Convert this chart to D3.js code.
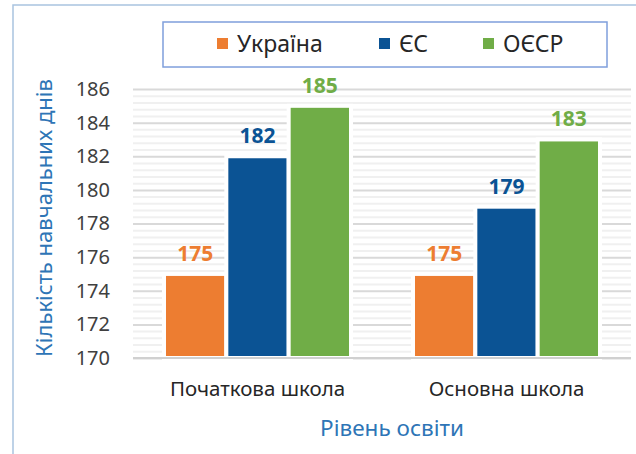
<!DOCTYPE html>
<html lang="uk">
<head>
    <meta charset="UTF-8">
    <title>Кількість навчальних днів</title>
    <style>
        body { margin: 0; background: #fff; }
        text { font-family: "Noto Sans", sans-serif; }
    </style>
</head>
<body>
    <div class="container"></div>
    <script src="https://cdn.jsdelivr.net/npm/d3@7/dist/d3.min.js"></script>
    <script>
        // data
        const categories = ["Початкова школа", "Основна школа"]
        const series = ["Україна", "ЄС", "ОЄСР"]
        const ukraine = [175, 175]
        const eu = [182, 179]
        const oecd = [185, 183]
        const yTicks = [170, 172, 174, 176, 178, 180, 182, 184, 186]

        const colors = ["#ED7D31", "#0B5394", "#70AD47"]
        const values = [ukraine, eu, oecd]

        const width = 636
        const height = 454
        const plot = { left: 133, right: 631, top: 89, bottom: 358 }

        const svg = d3.select('.container').append("svg")
            .attr("width", width)
            .attr("height", height)

        // outer frame (cut off at right/bottom)
        svg.append("rect")
            .attr("x", 13).attr("y", 5)
            .attr("width", 640).attr("height", 470)
            .attr("fill", "none")
            .attr("stroke", "#A9C4E0")
            .attr("stroke-width", 1.5)

        const x0 = d3.scaleBand()
            .domain(categories)
            .range([plot.left, plot.right])
            .paddingInner(0.265)
            .paddingOuter(0.1325)

        const x1 = d3.scaleBand()
            .domain(series)
            .range([-2, x0.bandwidth() + 2])

        const y = d3.scaleLinear()
            .domain([170, 186])
            .range([plot.bottom, plot.top])

        // minor grid
        const minor = d3.range(170, 186, 0.4).filter(v => Math.abs((v - 170) / 2 - Math.round((v - 170) / 2)) > 0.01)
        svg.append("g")
            .attr("class", "minor-grid")
            .attr("transform", `translate(${plot.left},0)`)
            .call(d3.axisLeft(y).tickValues(minor).tickSize(-(plot.right - plot.left)).tickFormat(""))
            .call(g => g.select(".domain").remove())
            .call(g => g.selectAll("line").attr("stroke", "#F0F0F0").attr("stroke-width", 2))

        // major grid
        svg.append("g")
            .attr("class", "major-grid")
            .attr("transform", `translate(${plot.left},0)`)
            .call(d3.axisLeft(y).tickValues(yTicks).tickSize(-(plot.right - plot.left)).tickFormat(""))
            .call(g => g.select(".domain").remove())
            .call(g => g.selectAll("line").attr("stroke", "#D9D9D9").attr("stroke-width", 2))

        // y tick labels
        svg.append("g")
            .attr("class", "left-axis")
            .attr("transform", `translate(${plot.left},0)`)
            .call(d3.axisLeft(y).tickValues(yTicks).tickSize(0).tickPadding(23).tickFormat(d3.format("d")))
            .call(g => g.select(".domain").remove())
            .call(g => g.selectAll("text")
                .attr("fill", "#404040")
                .style("font-size", "20px")
                .style("font-family", "Noto Sans"))

        // bars
        const groups = svg.append("g").attr("class", "bars")
            .selectAll("g")
            .data(series)
            .join("g")

        groups.selectAll("rect")
            .data((s, i) => categories.map((c, j) => ({ s, c, v: values[i][j], color: colors[i] })))
            .join("rect")
            .attr("x", d => x0(d.c) + x1(d.s))
            .attr("y", d => y(d.v))
            .attr("width", x1.bandwidth())
            .attr("height", d => y(170) - y(d.v))
            .attr("fill", d => d.color)
            .attr("stroke", "#fff")
            .attr("stroke-width", 4)

        groups.selectAll("text")
            .data((s, i) => categories.map((c, j) => ({ s, c, v: values[i][j], color: colors[i] })))
            .join("text")
            .attr("x", d => x0(d.c) + x1(d.s) + x1.bandwidth() / 2)
            .attr("y", d => y(d.v) - 13)
            .attr("text-anchor", "middle")
            .attr("fill", d => d.color)
            .style("font-size", "21px")
            .style("font-weight", "bold")
            .text(d => d.v)

        // bottom axis
        svg.append("line")
            .attr("x1", plot.left).attr("x2", plot.right)
            .attr("y1", y(170)).attr("y2", y(170))
            .attr("stroke", "#D0D0D0").attr("stroke-width", 2)

        svg.append("g")
            .attr("class", "bottom-axis")
            .attr("transform", `translate(0,${plot.bottom})`)
            .call(d3.axisBottom(x0).tickSize(0).tickPadding(23))
            .call(g => g.select(".domain").remove())
            .call(g => g.selectAll("text")
                .attr("fill", "#262626")
                .style("font-size", "20.5px")
                .style("font-family", "Noto Sans"))

        // axis titles
        svg.append("text")
            .attr("x", 392).attr("y", 436)
            .attr("text-anchor", "middle")
            .attr("fill", "#2E75B6")
            .style("font-size", "22.5px")
            .text("Рівень освіти")

        svg.append("text")
            .attr("transform", "translate(52,218) rotate(-90)")
            .attr("text-anchor", "middle")
            .attr("fill", "#2E75B6")
            .style("font-size", "22px")
            .text("Кількість навчальних днів")

        // legend
        const legend = svg.append("g").attr("class", "legend")
        legend.append("rect")
            .attr("x", 163).attr("y", 22)
            .attr("width", 444).attr("height", 45)
            .attr("fill", "#fff")
            .attr("stroke", "#7F9FDC")
            .attr("stroke-width", 1.5)

        const legendX = [217, 379, 483]
        const item = legend.selectAll("g")
            .data(series)
            .join("g")
            .attr("transform", (d, i) => `translate(${legendX[i]},38)`)
        item.append("rect")
            .attr("width", 11).attr("height", 11)
            .attr("fill", (d, i) => colors[i])
        item.append("text")
            .attr("x", 20).attr("y", 14)
            .attr("fill", "#262626")
            .style("font-size", "23px")
            .text(d => d)
    </script>
</body>
</html>
